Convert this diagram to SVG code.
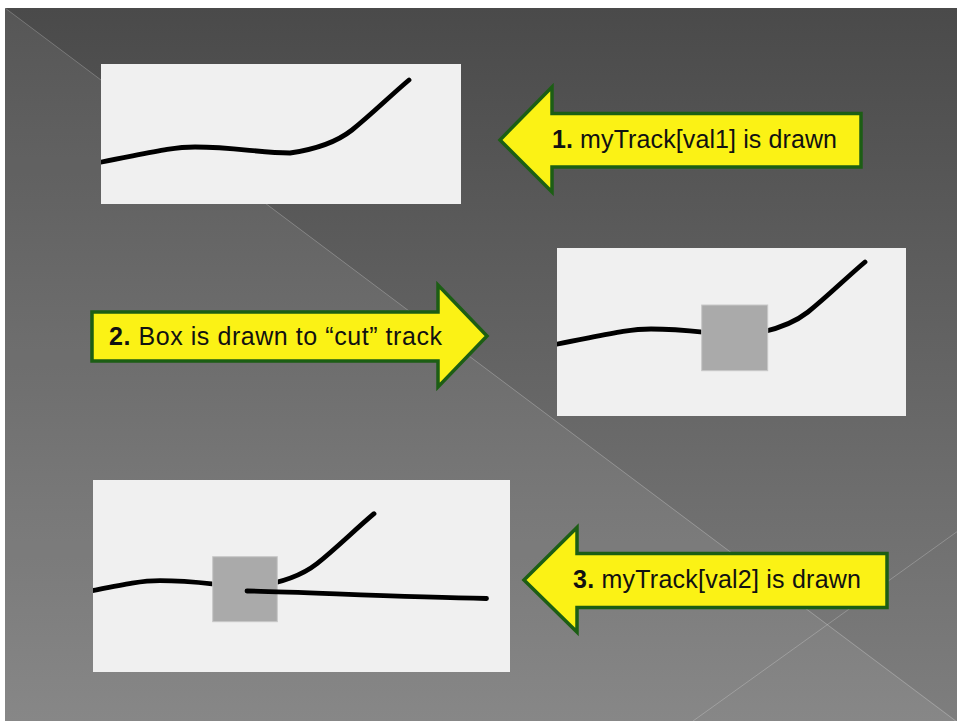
<svg xmlns="http://www.w3.org/2000/svg" width="957" height="721" viewBox="0 0 957 721">
  <style>
    .panel { fill: #f0f0f0; }
    .track { fill: none; stroke: #000; stroke-width: 4.8; stroke-linecap: round; stroke-linejoin: round; }
    .cut { fill: #aaaaaa; stroke: #c8c8c8; stroke-width: 1; }
    .callout { fill: #fbf215; stroke: #1c5e14; stroke-width: 3.5; stroke-linejoin: miter; }
    .label { font-family: "Liberation Sans", Arial, sans-serif; font-size: 25px; fill: #111; }
    .num { font-weight: bold; }
    .diag { stroke: #ffffff; stroke-opacity: 0.22; stroke-width: 1; fill: none; }
  </style>
  <defs>
    <linearGradient id="bg" x1="0" y1="8" x2="0" y2="721" gradientUnits="userSpaceOnUse">
      <stop offset="0" stop-color="#4a4a4a"/>
      <stop offset="1" stop-color="#7e7e7e"/>
    </linearGradient>
    <path id="track" d="M96,163 C145,154 170,147 195,147 C235,147 260,153 290,153 C318,149 338,141 352,130 C372,114 390,96 409,80"/>
    <clipPath id="clip1"><rect x="101" y="64" width="360" height="140"/></clipPath>
    <clipPath id="clip2"><rect x="557" y="248" width="349" height="168"/></clipPath>
    <clipPath id="clip3"><rect x="93" y="480" width="417" height="192"/></clipPath>
  </defs>

  <!-- background -->
  <rect x="0" y="0" width="957" height="721" fill="#ffffff"/>
  <rect x="5" y="8" width="952" height="713" fill="url(#bg)"/>
  <polygon points="5,8 5,721 957,721" fill="#ffffff" fill-opacity="0.07"/>
  <line class="diag" x1="5" y1="8" x2="957" y2="722"/>
  <line class="diag" x1="957" y1="531.7" x2="693" y2="721"/>

  <g id="panel1">
    <rect class="panel" x="101" y="64" width="360" height="140"/>
    <g clip-path="url(#clip1)"><use href="#track" class="track"/></g>
  </g>

  <g id="panel2">
    <rect class="panel" x="557" y="248" width="349" height="168"/>
    <g clip-path="url(#clip2)"><use href="#track" class="track" transform="translate(456,182)"/></g>
    <rect class="cut" x="701.7" y="305" width="66" height="65.7"/>
  </g>

  <g id="panel3">
    <rect class="panel" x="93" y="480" width="417" height="192"/>
    <g clip-path="url(#clip3)"><use href="#track" class="track" transform="translate(-35,433.7)"/></g>
    <rect class="cut" x="212.7" y="556.7" width="64.6" height="65"/>
    <path class="track" d="M247,591 C300,592 400,597 486.5,598.5"/>
  </g>

  <g id="callout1">
    <polygon class="callout" points="500,140 552,87 552,113.5 861,113.5 861,167 552,167 552,192"/>
    <text class="label" x="552" y="148" textLength="285" lengthAdjust="spacing"><tspan class="num">1.</tspan> myTrack[val1] is drawn</text>
  </g>

  <g id="callout2">
    <polygon class="callout" points="92,312 438,312 438,285 487,336 438,387 438,361 92,361"/>
    <text class="label" x="109" y="345" textLength="333" lengthAdjust="spacing"><tspan class="num">2.</tspan> Box is drawn to “cut” track</text>
  </g>

  <g id="callout3">
    <polygon class="callout" points="524,580 577,527.5 577,553.5 887,553.5 887,607.5 577,607.5 577,632"/>
    <text class="label" x="573" y="588" textLength="288" lengthAdjust="spacing"><tspan class="num">3.</tspan> myTrack[val2] is drawn</text>
  </g>

  <g id="connectors"/>
</svg>
